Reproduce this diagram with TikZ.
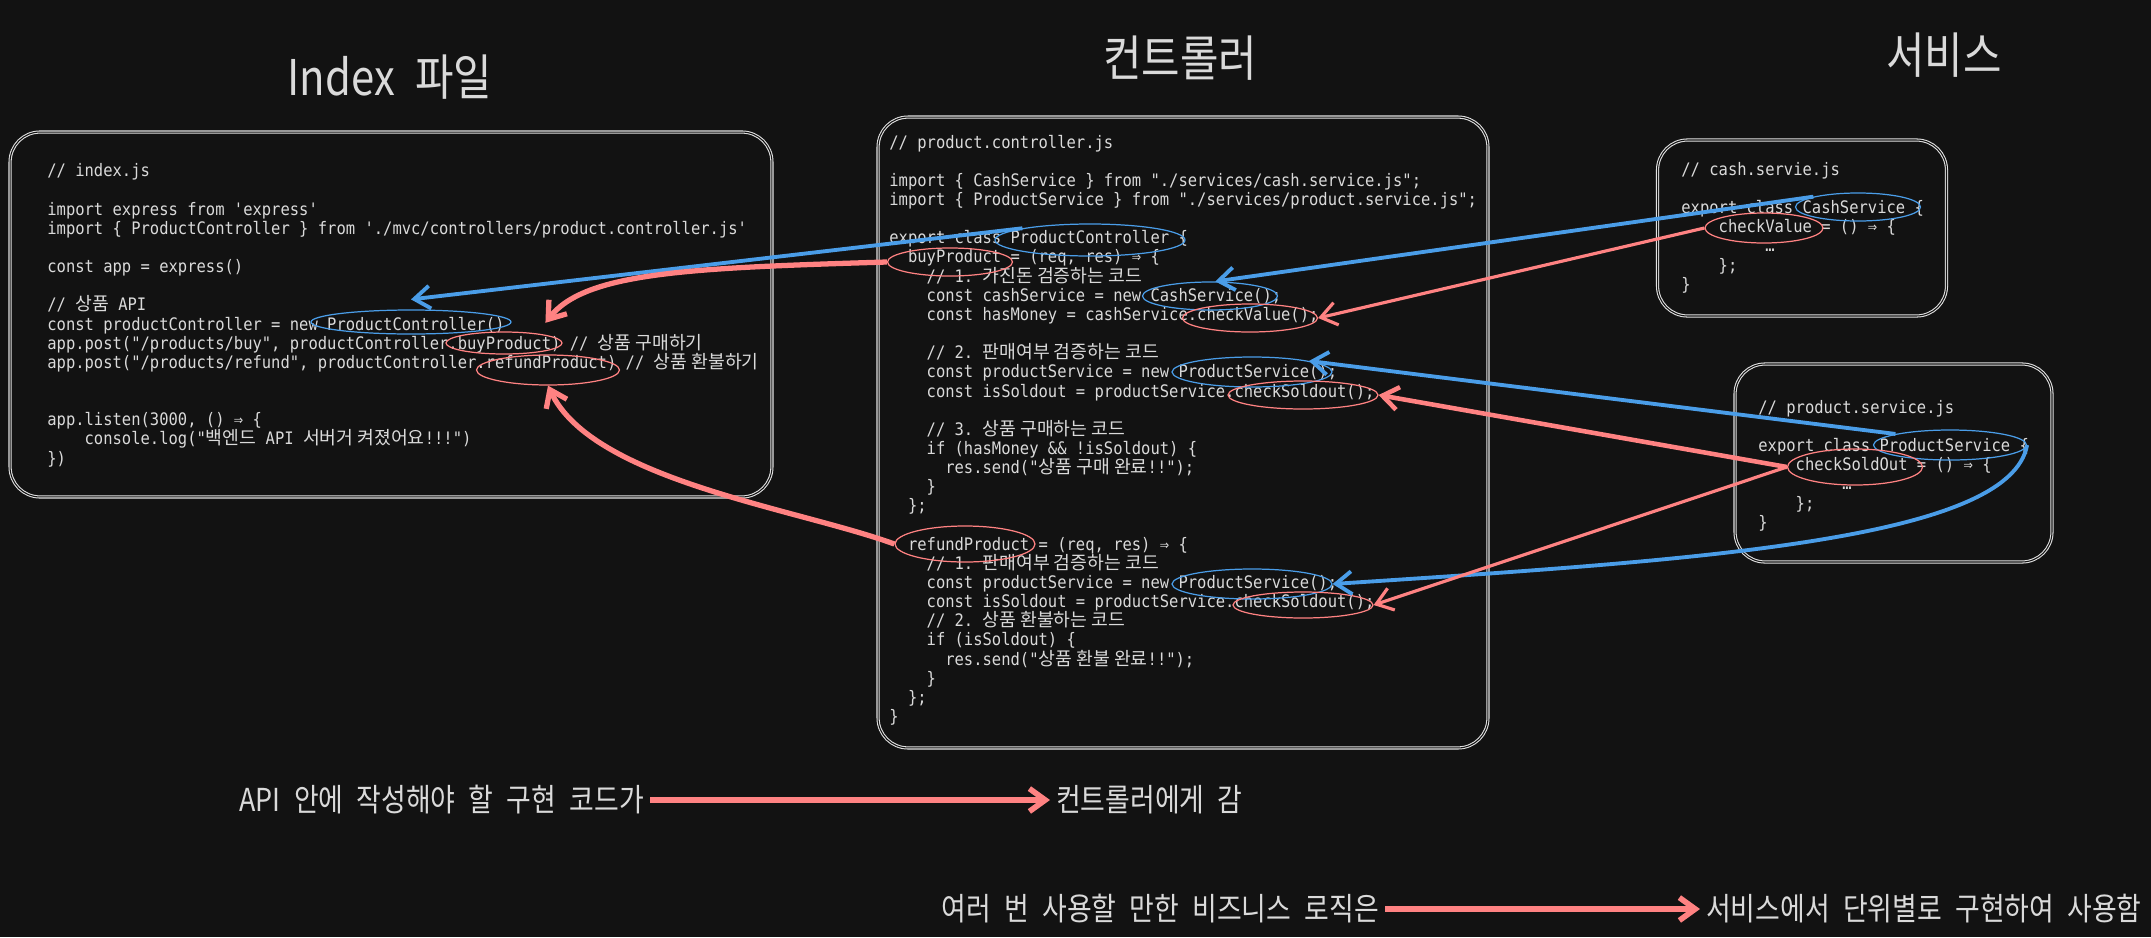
\documentclass[tikz,border=0pt]{standalone}
\usepackage{fontspec}
\setmainfont{Noto Sans CJK KR}
\setmonofont{DejaVu Sans Mono}[FakeStretch=0.9]
\newfontfamily\kofont{Noto Sans CJK KR}
\newfontfamily\handfont{Noto Sans CJK KR}[FakeStretch=0.85,WordSpace=2.2]
\usepackage{tikz}
\usetikzlibrary{
	arrows.meta,
	positioning,
	calc,
	shapes.geometric
}
\usepackage{xcolor}

\definecolor{bgdark}{HTML}{121212}
\definecolor{inkgray}{HTML}{DADADA}
\definecolor{sketch}{HTML}{E2E2E2}
\definecolor{skyblue}{HTML}{4A9DE8}
\definecolor{salmon}{HTML}{FF8282}

\newcommand{\ko}[1]{{\kofont\fontsize{10.4pt}{10.9pt}\selectfont #1}}
\newcommand{\twosp}{\hphantom{00}}
\newcommand{\codesize}{\fontsize{9.8pt}{10.9pt}\selectfont}

\begin{document}
\begin{tikzpicture}[
		x=0.02cm, y=-0.02cm,
		>={Straight Barb[length=9pt,width=13pt]},
		panel/.style={
			draw=sketch,
			line width=0.6pt,
			double=bgdark,
			double distance=0.6pt,
			rounded corners=0.6cm,
			inner sep=0pt
		},
		code/.style={
			anchor=north west,
			align=left,
			inner sep=0pt,
			text=inkgray,
			font=\ttfamily\codesize
		},
		title/.style={
			text=inkgray,
			font=\handfont\fontsize{28pt}{32pt}\selectfont
		},
		note/.style={
			text=inkgray,
			font=\handfont\fontsize{18pt}{21pt}\selectfont
		},
		bluering/.style={ellipse, draw=skyblue, line width=0.7pt, inner sep=0pt},
		redring/.style={ellipse, draw=salmon, line width=0.7pt, inner sep=0pt},
		bluelink/.style={->, draw=skyblue, line width=2.2pt},
		redlink/.style={->, draw=salmon, line width=2.6pt}
		]
		
		\fill[bgdark] (0,0) rectangle (2151,937);
		\useasboundingbox (0,0) rectangle (2151,937);
		
		% Titles
		\node[title] (idxtitle) at (390,77) {Index 파일};
		\node[title] (ctltitle) at (1180,58) {컨트롤러};
		\node[title] (svctitle) at (1944,55) {서비스};
		
		% Index file
		\node[panel, minimum width=15.24cm, minimum height=7.3cm] (idxbox) at (391,314.5) {};
		\node[code] (idxcode) at (47,163.1) {\strut// index.js\\
			\mbox{}\\
			import express from 'express'\\
			import \{ ProductController \} from './mvc/controllers/product.controller.js'\\
			\mbox{}\\
			const app = express()\\
			\mbox{}\\
			// \ko{상품} API\\
			const productController = new ProductController()\\
			app.post("/products/buy", productController.buyProduct) // \ko{상품 구매하기}\\
			app.post("/products/refund", productController.refundProduct) // \ko{상품 환불하기}\\
			\mbox{}\\
			\mbox{}\\
			app.listen(3000, () ⇒ \{\\
			\twosp\twosp console.log("\ko{백엔드} API \ko{서버거 켜졌어요}!!!")\\
			\})};
		
		\node[bluering, minimum width=4cm, minimum height=0.48cm] (ctlnew) at (411,322) {};
		\node[redring, minimum width=2.32cm, minimum height=0.44cm] (idxbuy) at (504,343) {};
		\node[redring, minimum width=2.86cm, minimum height=0.6cm] (idxrefund) at (548,370) {};
		
		% Controller
		\node[panel, minimum width=12.2cm, minimum height=12.62cm] (ctlbox) at (1183,432.5) {};
		\node[code] (ctlcode) at (889,134.3) {\strut// product.controller.js\\
			\mbox{}\\
			import \{ CashService \} from "./services/cash.service.js";\\
			import \{ ProductService \} from "./services/product.service.js";\\
			\mbox{}\\
			export class ProductController \{\\
			\twosp buyProduct = (req, res) ⇒ \{\\
			\twosp\twosp // 1. \ko{가진돈 검증하는 코드}\\
			\twosp\twosp const cashService = new CashService();\\
			\twosp\twosp const hasMoney = cashService.checkValue();\\
			\mbox{}\\
			\twosp\twosp // 2. \ko{판매여부 검증하는 코드}\\
			\twosp\twosp const productService = new ProductService();\\
			\twosp\twosp const isSoldout = productService.checkSoldout();\\
			\mbox{}\\
			\twosp\twosp // 3. \ko{상품 구매하는 코드}\\
			\twosp\twosp if (hasMoney \&\& !isSoldout) \{\\
			\twosp\twosp\twosp res.send("\ko{상품 구매 완료}!!");\\
			\twosp\twosp \}\\
			\twosp \};\\
			\mbox{}\\
			\twosp refundProduct = (req, res) ⇒ \{\\
			\twosp\twosp // 1. \ko{판매여부 검증하는 코드}\\
			\twosp\twosp const productService = new ProductService();\\
			\twosp\twosp const isSoldout = productService.checkSoldout();\\
			\twosp\twosp // 2. \ko{상품 환불하는 코드}\\
			\twosp\twosp if (isSoldout) \{\\
			\twosp\twosp\twosp res.send("\ko{상품 환불 완료}!!");\\
			\twosp\twosp \}\\
			\twosp \};\\
			\}};
		
		\node[bluering, minimum width=3.8cm, minimum height=0.64cm] (ctlclass) at (1090,240) {};
		\node[redring, minimum width=2.5cm, minimum height=0.56cm] (ctlbuy) at (950,262) {};
		\node[bluering, minimum width=2.7cm, minimum height=0.56cm] (newcash) at (1210,296) {};
		\node[redring, minimum width=2.7cm, minimum height=0.56cm] (callvalue) at (1250,318) {};
		\node[bluering, minimum width=3.2cm, minimum height=0.6cm] (newprod1) at (1252,372) {};
		\node[redring, minimum width=3cm, minimum height=0.56cm] (callsold1) at (1303,395) {};
		\node[redring, minimum width=2.8cm, minimum height=0.72cm] (ctlrefund) at (965,544) {};
		\node[bluering, minimum width=3.2cm, minimum height=0.6cm] (newprod2) at (1252,584) {};
		\node[redring, minimum width=2.8cm, minimum height=0.52cm] (callsold2) at (1303,605) {};
		
		% Cash service
		\node[panel, minimum width=5.78cm, minimum height=3.52cm] (cashbox) at (1802,228) {};
		\node[code] (cashcode) at (1681,161.6) {\strut// cash.servie.js\\
			\mbox{}\\
			export class CashService \{\\
			\twosp\twosp checkValue = () ⇒ \{\\
			\twosp\twosp\twosp\twosp\hphantom{0}…\\
			\twosp\twosp \};\\
			\}};
		\node[bluering, minimum width=2.5cm, minimum height=0.56cm] (cashclass) at (1858,207) {};
		\node[redring, minimum width=2.36cm, minimum height=0.6cm] (cashvalue) at (1764,228) {};
		
		% Product service
		\node[panel, minimum width=6.34cm, minimum height=3.96cm] (prodbox) at (1893.5,463) {};
		\node[code] (prodcode) at (1758,399.6) {\strut// product.service.js\\
			\mbox{}\\
			export class ProductService \{\\
			\twosp\twosp checkSoldOut = () ⇒ \{\\
			\twosp\twosp\twosp\twosp\hphantom{0}…\\
			\twosp\twosp \};\\
			\}};
		\node[bluering, minimum width=3.06cm, minimum height=0.6cm] (prodclass) at (1950,445) {};
		\node[redring, minimum width=2.7cm, minimum height=0.72cm] (prodsold) at (1855,467) {};
		
		% Connections
		\draw[bluelink] (ctlclass.north west) -- ([yshift=0.2cm]ctlnew.north);
		\draw[bluelink] (cashclass.north west) -- (newcash.70);
		\draw[bluelink] (prodclass.north west) -- (newprod1.north east);
		\draw[bluelink] (prodclass.east) .. controls (2010,540) and (1700,560) .. (newprod2.east);
		
		\draw[redlink, line width=3pt] (ctlbuy.west) .. controls (690,268) and (585,272) .. ([yshift=0.24cm]idxbuy.north east);
		\draw[redlink, line width=3pt] (ctlrefund.west) to[out=160,in=-65,looseness=0.7] (idxrefund.south);
		\draw[redlink, line width=1.8pt] (cashvalue.west) -- (callvalue.east);
		\draw[redlink] (prodsold.west) -- (callsold1.east);
		\draw[redlink, line width=1.8pt] (prodsold.west) -- (callsold2.east);
		
		% Notes
		\node[note, anchor=east] (apinote) at (650,800) {API 안에 작성해야 할 구현 코드가};
		\node[note, anchor=west] (ctlnote) at (1050,800) {컨트롤러에게 감};
		\node[note, anchor=east] (bizinote) at (1385,909) {여러 번 사용할 만한 비즈니스 로직은};
		\node[note, anchor=west] (svcnote) at (1700,909) {서비스에서 단위별로 구현하여 사용함};
		
		\draw[redlink, line width=3.2pt] (apinote) -- (ctlnote);
		\draw[redlink, line width=3.2pt] (bizinote) -- (svcnote);
		
	\end{tikzpicture}
\end{document}
